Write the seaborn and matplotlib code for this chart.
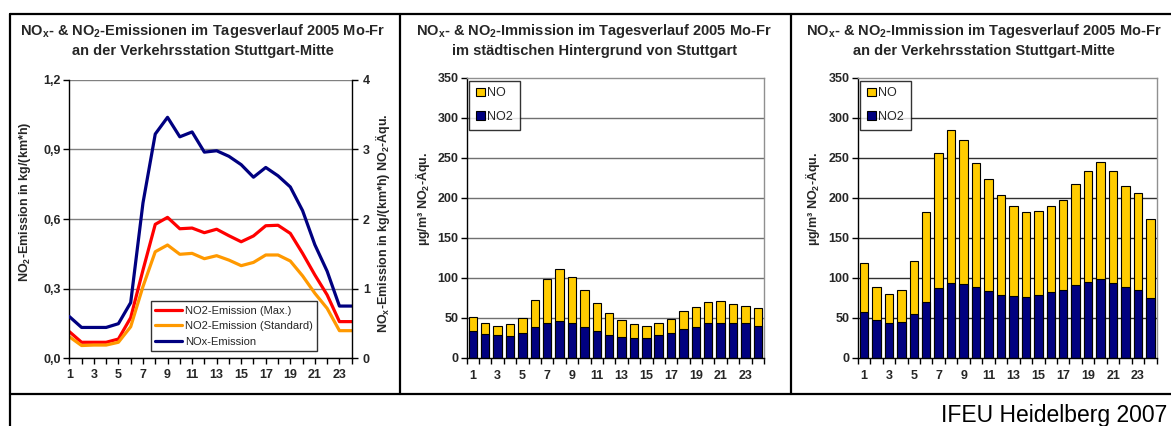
import numpy as np
import pandas as pd
import matplotlib
matplotlib.use("Agg")
import matplotlib.pyplot as plt
from matplotlib.lines import Line2D
from matplotlib.ticker import FixedLocator
import seaborn as sns

# ---------------- data ----------------
hours = list(range(1, 25))

no2_max = [0.115, 0.069, 0.069, 0.069, 0.083, 0.175, 0.38, 0.577, 0.607, 0.558, 0.561, 0.541,
           0.556, 0.528, 0.502, 0.527, 0.571, 0.573, 0.538, 0.452, 0.359, 0.273, 0.158, 0.158]
no2_std = [0.093, 0.055, 0.057, 0.057, 0.069, 0.136, 0.309, 0.459, 0.488, 0.448, 0.452, 0.429,
           0.442, 0.423, 0.399, 0.413, 0.445, 0.445, 0.419, 0.355, 0.280, 0.215, 0.119, 0.119]
nox_em = [0.60, 0.443, 0.443, 0.443, 0.497, 0.80, 2.23, 3.22, 3.46, 3.18, 3.25, 2.96,
          2.98, 2.90, 2.78, 2.60, 2.74, 2.62, 2.46, 2.12, 1.63, 1.25, 0.75, 0.75]

bg_total = [51, 44, 40, 42, 50, 72, 98, 111, 101, 85, 69, 56,
            47.5, 42.5, 40, 43, 48, 58, 63, 70, 71, 67.5, 65, 62]
bg_no2 = [34, 30, 28, 27.5, 31, 38, 44, 46, 43, 39, 33, 28,
          26, 25, 25, 28, 31, 36, 39, 43, 43, 43, 43, 40]

tr_total = [119, 89, 80, 85, 121, 182, 256, 285, 272, 244, 223, 204,
            190, 182, 183, 190, 197, 217, 234, 245, 233, 215, 206, 174]
tr_no2 = [57, 47.5, 44, 45, 55, 70, 87, 93, 92, 88, 84, 79,
          77.5, 76, 79, 82, 85, 91, 95, 98, 94, 89, 85, 75]

left_yticks = [0.0, 0.3, 0.6, 0.9, 1.2]
left_yticklabels = ["0,0", "0,3", "0,6", "0,9", "1,2"]
right_yticks = [0, 1, 2, 3, 4]
bar_yticks = [0, 50, 100, 150, 200, 250, 300, 350]
odd_hours = [str(h) for h in hours if h % 2 == 1]

titles = [
    ("NO$_\\mathrm{x}$- & NO$_2$-Emissionen im Tagesverlauf 2005 Mo-Fr",
     "an der Verkehrsstation Stuttgart-Mitte"),
    ("NO$_\\mathrm{x}$- & NO$_2$-Immission im Tagesverlauf 2005 Mo-Fr",
     "im städtischen Hintergrund von Stuttgart"),
    ("NO$_\\mathrm{x}$- & NO$_2$-Immission im Tagesverlauf 2005 Mo-Fr",
     "an der Verkehrsstation Stuttgart-Mitte"),
]

# ---------------- style ----------------
sns.set_theme(style="white")
plt.rcParams["font.family"] = ["Liberation Sans", "DejaVu Sans"]
plt.rcParams["mathtext.fontset"] = "custom"
plt.rcParams["mathtext.rm"] = "Liberation Sans:bold"
plt.rcParams["mathtext.it"] = "Liberation Sans:bold"
plt.rcParams["mathtext.bf"] = "Liberation Sans:bold"
plt.rcParams["mathtext.default"] = "rm"

RED = "#FF0000"
ORANGE = "#FF9900"
NAVY = "#000080"
YELLOW = "#FFCC00"

W, H = 1171, 426
fig = plt.figure(figsize=(W / 100, H / 100), dpi=100)
fig.patch.set_facecolor("white")

def px_axes(x0, x1, ytop, ybot):
    return fig.add_axes([x0 / W, 1 - ybot / H, (x1 - x0) / W, (ybot - ytop) / H])

TICK_FS = 9
LABEL_FS = 9

# ---------------- left panel ----------------
axL = px_axes(69.3, 351.7, 79.7, 358.3)
dfL = pd.DataFrame({"Stunde": hours, "max": no2_max, "std": no2_std, "nox": nox_em})
sns.lineplot(data=dfL, x="Stunde", y="max", ax=axL, color=RED, lw=2.3,
             label="NO2-Emission (Max.)", legend=False)
sns.lineplot(data=dfL, x="Stunde", y="std", ax=axL, color=ORANGE, lw=2.3,
             label="NO2-Emission (Standard)", legend=False)
axL.set_xlim(1, 24)
axL.set_ylim(0, 1.2)
axL.set_yticks(left_yticks)
axL.set_yticklabels(left_yticklabels, fontsize=TICK_FS, fontweight="bold")
axL.xaxis.set_major_locator(FixedLocator([h for h in hours if h % 2 == 1]))
axL.xaxis.set_minor_locator(FixedLocator([h for h in hours if h % 2 == 0]))
axL.set_xticklabels(odd_hours, fontsize=TICK_FS, fontweight="bold")
axL.tick_params(axis="both", which="both", direction="out", length=4, width=1, color="black", pad=2)
axL.tick_params(axis="x", which="both", bottom=True, pad=4)
axL.tick_params(axis="y", left=True)
axL.grid(axis="y", color="#808080", lw=1)
axL.set_axisbelow(True)
for s in ["top", "right"]:
    axL.spines[s].set_visible(False)
for s in ["left", "bottom"]:
    axL.spines[s].set_color("black")
    axL.spines[s].set_linewidth(1)
axL.set_xlabel("")
axL.set_ylabel("NO$_2$-Emission in kg/(km*h)", fontsize=LABEL_FS, fontweight="bold")
axL.yaxis.set_label_coords(-0.127, 0.56)

axR = axL.twinx()
sns.lineplot(data=dfL, x="Stunde", y="nox", ax=axR, color=NAVY, lw=2.3,
             label="NOx-Emission", legend=False)
axR.set_ylim(0, 4)
axR.set_xlim(1, 24)
axR.set_yticks(right_yticks)
axR.set_yticklabels([str(v) for v in right_yticks], fontsize=TICK_FS, fontweight="bold")
axR.tick_params(axis="y", right=True, direction="out", length=4, width=1, color="black", pad=4)
axR.grid(False)
for s in ["top", "left", "bottom"]:
    axR.spines[s].set_visible(False)
axR.spines["right"].set_color("black")
axR.spines["right"].set_linewidth(1)
axR.set_ylabel("NO$_\\mathrm{x}$-Emission in kg/(km*h) NO$_2$-Äqu.", fontsize=LABEL_FS, fontweight="bold")
axR.yaxis.set_label_coords(1.076, 0.485)
hL, lL = axL.get_legend_handles_labels()
hR, lR = axR.get_legend_handles_labels()
leg = axR.legend(hL + hR, lL + lR, loc="lower left", bbox_to_anchor=(0.289, 0.026),
                 fontsize=8, frameon=True, fancybox=False, edgecolor="black",
                 handlelength=2.4, handletextpad=0.25, labelspacing=0.5,
                 borderpad=0.4, borderaxespad=0)
leg.get_frame().set_linewidth(1)

# ---------------- bar panels ----------------
def bar_panel(x0, x1, total, no2, grid_color, label_x):
    ax = px_axes(x0, x1, 77.7, 357.7)
    df = pd.DataFrame({"Stunde": [str(h) for h in hours], "total": total, "no2": no2})
    sns.barplot(data=df, x="Stunde", y="total", ax=ax, color=YELLOW, saturation=1,
                width=0.68, edgecolor="black", linewidth=0.8, label="NO")
    sns.barplot(data=df, x="Stunde", y="no2", ax=ax, color=NAVY, saturation=1,
                width=0.68, edgecolor="black", linewidth=0.8, label="NO2")
    ax.set_xlim(-0.5, 23.5)
    ax.set_ylim(0, 350)
    ax.set_yticks(bar_yticks)
    ax.set_yticklabels([str(v) for v in bar_yticks], fontsize=TICK_FS, fontweight="bold")
    ax.xaxis.set_major_locator(FixedLocator([i for i in range(24) if i % 2 == 0]))
    ax.set_xticklabels(odd_hours, fontsize=TICK_FS, fontweight="bold")
    ax.xaxis.set_minor_locator(FixedLocator([i - 0.5 for i in range(25)]))
    ax.tick_params(axis="x", which="major", length=0, pad=9)
    ax.tick_params(axis="x", which="minor", bottom=True, length=4, width=1, color="black", direction="out")
    ax.tick_params(axis="y", left=True, length=4, width=1, color="black", direction="out", pad=2)
    ax.grid(False)
    for v in bar_yticks[1:-1]:
        ax.axhline(v, color=grid_color, lw=1, zorder=0.5)
    for s in ["left", "bottom"]:
        ax.spines[s].set_color("black")
        ax.spines[s].set_linewidth(1)
    for s in ["top", "right"]:
        ax.spines[s].set_color("#909090")
        ax.spines[s].set_linewidth(1)
    ax.set_axisbelow(True)
    ax.set_xlabel("")
    ax.set_ylabel("µg/m³ NO$_2$-Äqu.", fontsize=LABEL_FS, fontweight="bold")
    ax.yaxis.set_label_coords(label_x, 0.567)
    lg = ax.legend(loc="upper left", bbox_to_anchor=(0.008, 0.99), fontsize=9,
                   frameon=True, fancybox=False, edgecolor="black",
                   handlelength=0.72, handleheight=0.72, handletextpad=0.2,
                   labelspacing=0.9, borderpad=0.55, borderaxespad=0)
    lg.get_frame().set_linewidth(1)
    return ax

bar_panel(466.7, 764.0, bg_total, bg_no2, "#707070", -0.117)
bar_panel(857.7, 1156.7, tr_total, tr_no2, "#303030", -0.119)

# ---------------- titles ----------------
title_cx = [203, 594, 984]
for cx, (l1, l2) in zip(title_cx, titles):
    fig.text(cx / W, 1 - 35.5 / H, l1, ha="center", va="baseline", fontsize=10.5, fontweight="bold")
    fig.text(cx / W, 1 - 54.5 / H, l2, ha="center", va="baseline", fontsize=10.5, fontweight="bold")

# ---------------- frame ----------------
def fline(xa, ya, xb, yb):
    fig.add_artist(Line2D([xa / W, xb / W], [1 - ya / H, 1 - yb / H],
                          transform=fig.transFigure, color="black", lw=1.6))

fline(10, 14, 1180, 14)
fline(10, 14, 10, 440)
fline(399.5, 14, 399.5, 394)
fline(791, 14, 791, 394)
fline(10, 394, 1180, 394)

fig.text(1167 / W, 1 - 422 / H, "IFEU Heidelberg 2007", ha="right", va="baseline",
         fontsize=16.5, color="black")

fig.savefig("out.png", dpi=100, facecolor="white")
